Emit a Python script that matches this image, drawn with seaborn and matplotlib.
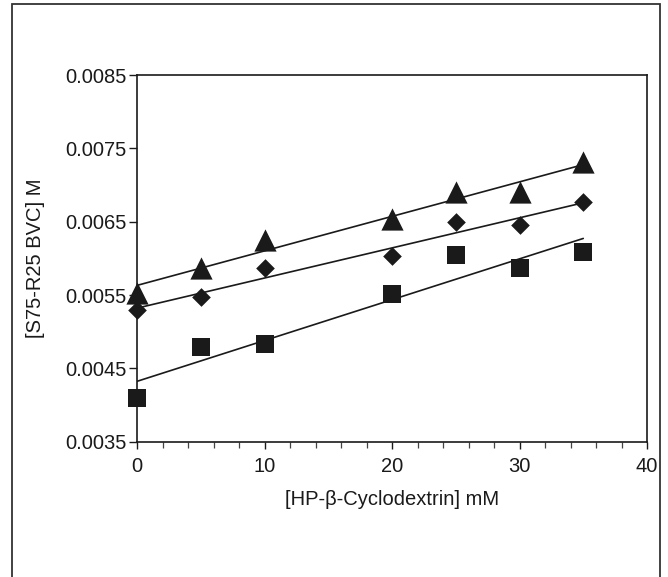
import numpy as np
import pandas as pd
import seaborn as sns
import matplotlib
matplotlib.use("Agg")
import matplotlib.pyplot as plt
from matplotlib.patches import Rectangle
from matplotlib.ticker import MultipleLocator, FixedLocator

# HP-beta-cyclodextrin concentration (mM)
cd_conc = [0, 5, 10, 20, 25, 30, 35]

# Solubility of the S75-R25 BVC mixture (M) for three series
series_triangle = [0.00553, 0.00587, 0.00625, 0.00654, 0.00690, 0.00690, 0.00731]
series_diamond = [0.00529, 0.00547, 0.00587, 0.00603, 0.00650, 0.00645, 0.00677]
series_square = [0.00409, 0.00479, 0.00483, 0.00551, 0.00604, 0.00587, 0.00609]

y_ticks = [0.0035, 0.0045, 0.0055, 0.0065, 0.0075, 0.0085]
x_ticks = [0, 10, 20, 30, 40]

sns.set_theme(style="ticks")
plt.rcParams["font.family"] = ["Liberation Sans", "DejaVu Sans"]

ink = "#1a1a1a"

df = pd.DataFrame({
    "conc": cd_conc * 3,
    "value": series_triangle + series_diamond + series_square,
    "series": ["triangle"] * 7 + ["diamond"] * 7 + ["square"] * 7,
})

fig = plt.figure(figsize=(6.68, 5.77), dpi=100)
ax = fig.add_axes([0.2051, 0.2345, 0.7635, 0.6355])

styles = {
    "triangle": dict(marker="^", s=16 ** 2),
    "diamond": dict(marker="D", s=9.5 ** 2),
    "square": dict(marker="s", s=12.5 ** 2),
}

for name, st in styles.items():
    sub = df[df["series"] == name]
    sns.regplot(
        data=sub, x="conc", y="value", ax=ax, ci=None, truncate=True,
        marker=st["marker"],
        scatter_kws=dict(s=st["s"], color=ink, alpha=1, linewidths=0,
                         zorder=3, clip_on=False),
        line_kws=dict(color=ink, lw=1.2, zorder=2),
    )

ax.set_xlim(0, 40)
ax.set_ylim(0.0035, 0.0085)
ax.xaxis.set_major_locator(FixedLocator(x_ticks))
ax.xaxis.set_minor_locator(MultipleLocator(2))
ax.yaxis.set_major_locator(FixedLocator(y_ticks))
ax.set_yticklabels([f"{v:.4f}" for v in y_ticks])

for sp in ax.spines.values():
    sp.set_visible(True)
    sp.set_color(ink)
    sp.set_linewidth(1.2)

ax.tick_params(axis="both", which="major", labelsize=14.5, colors=ink,
               length=5, width=1.0, direction="out")
ax.tick_params(axis="x", which="major", pad=6)
ax.tick_params(axis="y", which="major", pad=1.5, length=6)
ax.tick_params(axis="x", which="minor", length=4, width=0.9, color="#444444")

ax.set_xlabel("[HP-β-Cyclodextrin] mM", fontsize=14.5, color=ink)
ax.set_ylabel("[S75-R25 BVC] M", fontsize=14.5, color=ink)
ax.xaxis.set_label_coords(0.5, -0.132)
ax.yaxis.set_label_coords(-0.180, 0.5)

# Frame around the whole figure
fig.patches.append(Rectangle((0.018, -0.05), 0.970, 1.043, transform=fig.transFigure,
                             fill=False, edgecolor="#333333", lw=1.3))

fig.savefig("out.png", dpi=100, facecolor="white")
